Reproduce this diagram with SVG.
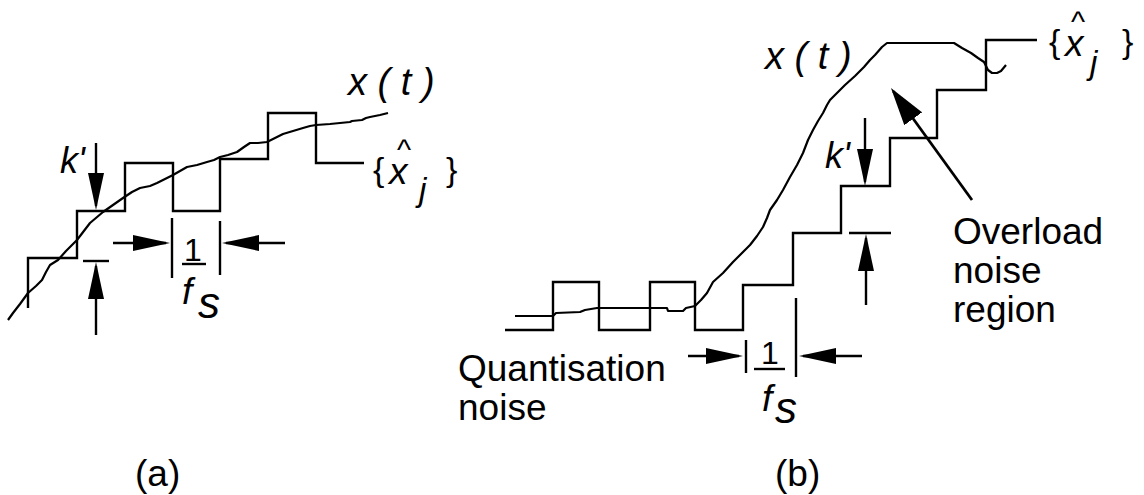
<svg xmlns="http://www.w3.org/2000/svg" width="1144" height="495" viewBox="0 0 1144 495">
<style>
  .ln { fill: none; stroke: #000; stroke-width: 2.4; stroke-linejoin: miter; stroke-linecap: butt; }
  .cv { fill: none; stroke: #000; stroke-width: 2.2; stroke-linejoin: round; }
  .ar { fill: none; stroke: #000; stroke-width: 2.4; marker-end: url(#ah); }
  .big { fill: none; stroke: #000; stroke-width: 2.8; marker-end: url(#ahb); }
  text { font-family: "Liberation Sans", Arial, sans-serif; fill: #000; }
  .lbl { font-size: 37px; }
  .mi { font-style: italic; }
</style>
<defs>
  <marker id="ah" viewBox="0 0 37 16" refX="33" refY="8" markerWidth="37" markerHeight="16" orient="auto" markerUnits="userSpaceOnUse">
    <path d="M0,0 L37,8 L0,16 z" fill="#000"/>
  </marker>
  <marker id="ahb" viewBox="0 0 38 22" refX="34" refY="11" markerWidth="38" markerHeight="22" orient="auto" markerUnits="userSpaceOnUse">
    <path d="M0,0 L38,11 L0,22 z" fill="#000"/>
  </marker>
</defs>

<g id="panel-a">
  <g id="a-staircase">
    <path class="ln" d="M28,308 V258 H77 V211 H125 V163 H173 V211 H220 V159 H268 V113 H316 V163 H364"/>
  </g>
  <g id="a-signal">
    <polyline class="cv" points="8,320 13,313 20,304 28,293 36,286 42,280 46,272 50,265 58,260 66,251 77,240 90,223 103,212 113,205 123,198 132,192 140,188 150,186 157,183 165,179 173,175 180,171 187,167 197,165 207,162 214,160 220,157 228,155 237,152 244,147 250,143 258,143 267,142 275,138 283,134 293,131 303,128 310,126 316,125 330,124 340,123 350,122 352,121 362,120 366,118 370,117 380,115 388,113"/>
  </g>
  <g id="a-labels">
    <text class="mi" x="348" y="95" font-size="38">x ( t )</text>
    <text x="373" y="181" font-size="34">{</text>
    <text class="mi" x="389" y="184" font-size="37">x</text>
    <text x="397" y="160" font-size="30">^</text>
    <text class="mi" x="419" y="201" font-size="33">j</text>
    <text x="446" y="181" font-size="34">}</text>
    <text class="mi" x="60" y="173" font-size="36">k'</text>
    <text x="193" y="261" font-size="32" text-anchor="middle">1</text>
    <text class="mi" x="182" y="304" font-size="37">f</text>
    <text class="mi" x="198" y="318" font-size="44">s</text>
    <text class="lbl" x="135" y="486">(a)</text>
  </g>
</g>

<g id="panel-b">
  <g id="b-staircase">
    <path class="ln" d="M505,330 H553 V282 H599 V330 H650 V282 H695 V330 H743 V285 H793 V233 H841 V186 H890 V138 H937 V90 H986 V40 H1037"/>
  </g>
  <g id="b-signal">
    <polyline class="cv" points="515,316 553,316 556,313 580,312 585,310 597,308 667,308 668,311 683,311 686,308 695,306 701,300 707,293 713,282 723,273 733,262 737,258 745,250 750,245 757,236 763,227 767,218 770,210 777,200 783,190 790,177 797,165 803,153 808,140 813,130 818,121 823,113 827,105 830,100 838,92 845,85 855,76 864,67 870,60 875,55 882,47 887,43 954,43 962,48 971,53 978,58 984,62 988,70 992,73 997,73 1001,71 1006,65"/>
  </g>
  <g id="b-labels">
    <text class="mi" x="765" y="69" font-size="38">x ( t )</text>
    <text x="1049" y="53" font-size="34">{</text>
    <text class="mi" x="1065" y="56" font-size="37">x</text>
    <text x="1071" y="32" font-size="30">^</text>
    <text class="mi" x="1090" y="74" font-size="33">j</text>
    <text x="1122" y="53" font-size="34">}</text>
    <text class="mi" x="825" y="168" font-size="36">k'</text>
    <text x="770" y="364" font-size="32" text-anchor="middle">1</text>
    <text class="mi" x="762" y="411" font-size="37">f</text>
    <text class="mi" x="775" y="423" font-size="44">s</text>
    <text class="lbl" x="953" y="244">Overload</text>
    <text class="lbl" x="953" y="283">noise</text>
    <text class="lbl" x="953" y="322">region</text>
    <text class="lbl" x="458" y="381">Quantisation</text>
    <text class="lbl" x="458" y="420">noise</text>
    <text class="lbl" x="775" y="486">(b)</text>
  </g>
</g>

<g id="connectors">
  <path class="ar" d="M96,143 V206"/>
  <path class="ln" d="M83,261 H109"/>
  <path class="ar" d="M96,335 V266"/>
  <path class="ln" d="M172,218 V278"/>
  <path class="ln" d="M220,221 V275"/>
  <path class="ar" d="M113,243 H166"/>
  <path class="ar" d="M285,243 H226"/>
  <path class="ln" d="M182,264 H206"/>
  <path class="ar" d="M865,118 V182"/>
  <path class="ln" d="M849,233 H891"/>
  <path class="ar" d="M866,305 V238"/>
  <path class="ln" d="M746,340 V373"/>
  <path class="ln" d="M796,298 V377"/>
  <path class="ar" d="M688,356 H739"/>
  <path class="ar" d="M862,356 H803"/>
  <path class="ln" d="M754,369 H785"/>
  <path class="big" d="M972,200 L893.3,91.2"/>
</g>
</svg>
